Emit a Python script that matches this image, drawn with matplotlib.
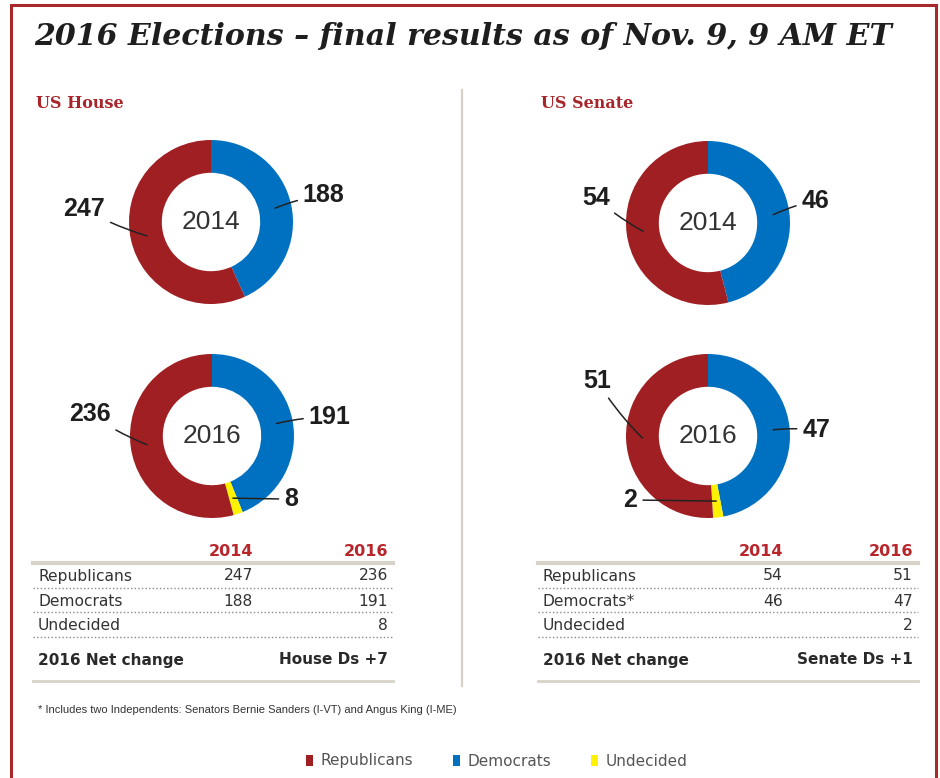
import matplotlib.pyplot as plt
from matplotlib.lines import Line2D
from matplotlib.patches import Rectangle
import numpy as np

# data
parties = ['Republicans', 'Democrats', 'Undecided']
house_2014 = [247, 188, 0]
house_2016 = [236, 191, 8]
senate_2014 = [54, 46, 0]
senate_2016 = [51, 47, 2]
years = ['2014', '2016']
net_house = 'House Ds +7'
net_senate = 'Senate Ds +1'

colors = {'Republicans': '#a01f23', 'Democrats': '#0071c1', 'Undecided': '#fff200'}
red_txt = '#b8262c'

W, H = 940, 778
fig = plt.figure(figsize=(W / 100, H / 100), dpi=100)


def fx(x):
    return x / W


def fy(y):
    return 1 - y / H


# border
fig.patches.append(Rectangle((fx(11), fy(800)), fx(936) - fx(11), fy(5) - fy(800),
                             transform=fig.transFigure, fill=False,
                             edgecolor='#a8282d', lw=2.2))

fig.text(fx(34), fy(45), '2016 Elections – final results as of Nov. 9, 9 AM ET',
         family='DejaVu Serif', fontweight='bold', style='italic', fontsize=21.6,
         color='#1e1e1e', va='baseline')

fig.text(fx(36), fy(103), 'US House', family='DejaVu Serif', fontweight='bold',
         fontsize=11.5, color='#a8262b', va='center')
fig.text(fx(541), fy(103), 'US Senate', family='DejaVu Serif', fontweight='bold',
         fontsize=11.5, color='#a8262b', va='center')

fig.add_artist(Line2D([fx(462), fx(462)], [fy(90), fy(686)], color='#d6d1c6', lw=1.6))

# label offsets in radius units: (dx, dy, ha)
label_pos = {
    'h14': {'Republicans': (-1.29, 0.16, 'right'), 'Democrats': (1.12, 0.33, 'left')},
    'h16': {'Republicans': (-1.23, 0.27, 'right'), 'Democrats': (1.18, 0.23, 'left'),
            'Undecided': (0.88, -0.77, 'left')},
    's14': {'Republicans': (-1.20, 0.31, 'right'), 'Democrats': (1.14, 0.27, 'left')},
    's16': {'Republicans': (-1.18, 0.67, 'right'), 'Democrats': (1.15, 0.07, 'left'),
            'Undecided': (-0.86, -0.78, 'right')},
}

R = 82
donuts = [('h14', house_2014, '2014', 211, 222),
          ('h16', house_2016, '2016', 212, 436),
          ('s14', senate_2014, '2014', 708, 223),
          ('s16', senate_2016, '2016', 708, 436)]

order = ['Democrats', 'Undecided', 'Republicans']  # clockwise from top
legend_handles = None
for key, vals, yr, cx, cy in donuts:
    ax = fig.add_axes([fx(cx - R), fy(cy + R), 2 * R / W, 2 * R / H])
    v = [vals[parties.index(p)] for p in order]
    wedges, _ = ax.pie(v, radius=1, startangle=90, counterclock=False,
                       colors=[colors[p] for p in order],
                       wedgeprops=dict(width=0.4, edgecolor='none'))
    ax.set_xlim(-1, 1)
    ax.set_ylim(-1, 1)
    ax.text(0, 0, yr, ha='center', va='center', fontsize=19,
            family='Liberation Sans', color='#333333')
    if all(x > 0 for x in v):
        legend_handles = wedges
    total = sum(v)
    start = 0
    for p, val in zip(order, v):
        if val == 0:
            continue
        mid = np.deg2rad(start + val / total * 180)
        start += val / total * 360
        px, py = 0.8 * np.sin(mid), 0.8 * np.cos(mid)
        dx, dy, ha = label_pos[key][p]
        rad = 0 if p == 'Undecided' else 0.06
        ax.annotate(str(val), xy=(px, py), xytext=(dx, dy), ha=ha, va='center',
                    fontsize=18, fontweight='bold', family='Liberation Sans',
                    color='#1e1e1e', annotation_clip=False,
                    arrowprops=dict(arrowstyle='-', lw=1.1, color='#222',
                                    shrinkA=2, shrinkB=0,
                                    connectionstyle=f'arc3,rad={rad}'))


def table(x0, x1, c14, c16, data14, data16, net, dem_label):
    fig.text(fx(c14), fy(552), years[0], ha='right', va='center', fontsize=11.5,
             fontweight='bold', color=red_txt)
    fig.text(fx(c16), fy(552), years[1], ha='right', va='center', fontsize=11.5,
             fontweight='bold', color=red_txt)
    fig.add_artist(Line2D([fx(x0), fx(x1)], [fy(563), fy(563)], color='#d8d3c8', lw=3))
    rows_y = [576, 601, 625]
    dots_y = [588, 612, 637]
    names = ['Republicans', dem_label, 'Undecided']
    for i, name in enumerate(names):
        fig.text(fx(x0 + 5), fy(rows_y[i]), name, va='center', fontsize=11.2, color='#333')
        a, b = data14[i], data16[i]
        if a:
            fig.text(fx(c14), fy(rows_y[i]), str(a), ha='right', va='center',
                     fontsize=11.2, color='#333')
        if b:
            fig.text(fx(c16), fy(rows_y[i]), str(b), ha='right', va='center',
                     fontsize=11.2, color='#333')
        fig.add_artist(Line2D([fx(x0), fx(x1)], [fy(dots_y[i])] * 2, color='#8a8a8a',
                              lw=1, ls=(0, (1, 1.6))))
    fig.text(fx(x0 + 5), fy(660), '2016 Net change', va='center', fontsize=11,
             fontweight='bold', color='#2a2a2a')
    fig.text(fx(c16), fy(660), net, ha='right', va='center', fontsize=11,
             fontweight='bold', color='#2a2a2a')
    fig.add_artist(Line2D([fx(x0), fx(x1)], [fy(681), fy(681)], color='#d8d3c8', lw=2))


table(33, 393, 253, 388, house_2014, house_2016, net_house, 'Democrats')
table(538, 918, 783, 913, senate_2014, senate_2016, net_senate, 'Democrats*')

fig.text(fx(38), fy(710),
         '* Includes two Independents: Senators Bernie Sanders (I-VT) and Angus King (I-ME)',
         va='center', fontsize=8, family='Liberation Sans', color='#333')

h = [legend_handles[order.index(p)] for p in parties]
fig.legend(h, parties, loc='center', bbox_to_anchor=(fx(497), fy(761)), ncol=3,
           frameon=False, handlelength=0.45, handleheight=0.75, handletextpad=0.5,
           columnspacing=2.6, fontsize=11, labelcolor='#555')

fig.savefig('out.png', dpi=100)
